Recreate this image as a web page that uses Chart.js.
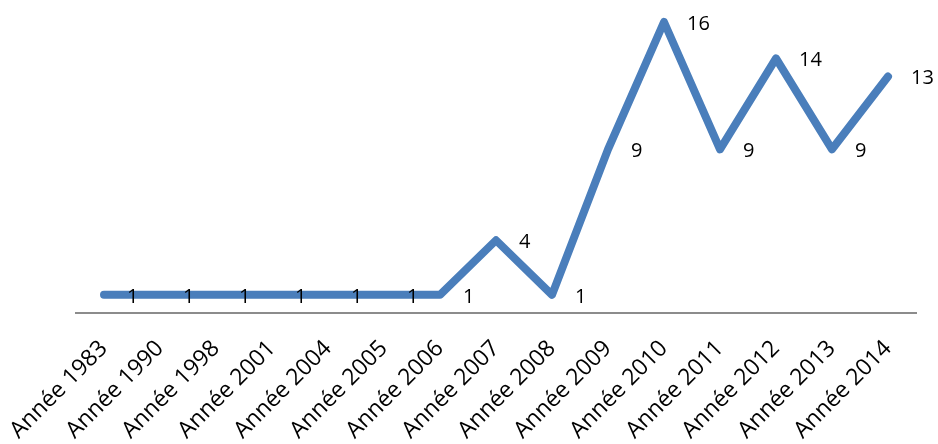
<!DOCTYPE html>
<html>
<head>
<meta charset="utf-8">
<script src="https://cdn.jsdelivr.net/npm/chart.js@4/dist/chart.umd.min.js"></script>
<style>
  html, body { margin: 0; padding: 0; background: #ffffff; }
  #wrap { width: 938px; height: 444px; position: relative; }
</style>
</head>
<body>
<div id="wrap"><canvas id="c"></canvas></div>
<script>
// Categories and values of the series
const categories = ["Année 1983", "Année 1990", "Année 1998", "Année 2001", "Année 2004",
  "Année 2005", "Année 2006", "Année 2007", "Année 2008", "Année 2009",
  "Année 2010", "Année 2011", "Année 2012", "Année 2013", "Année 2014"];
const counts = [1, 1, 1, 1, 1, 1, 1, 4, 1, 9, 16, 9, 14, 9, 13];

const FONT = "'Open Sans', Lato, 'DejaVu Sans', sans-serif";

// Writes each value to the right of its point
const valueLabels = {
  id: 'valueLabels',
  afterDatasetsDraw(chart) {
    const ctx = chart.ctx;
    const xs = chart.scales.x, ys = chart.scales.y;
    ctx.save();
    ctx.fillStyle = '#000000';
    ctx.font = '20px ' + FONT;
    ctx.textAlign = 'left';
    ctx.textBaseline = 'middle';
    chart.data.datasets[0].data.forEach((v, i) => {
      const x = xs.getPixelForValue(i);
      const y = ys.getPixelForValue(v);
      ctx.fillText(String(v), x + 23, y + 2);
    });
    ctx.restore();
  }
};

new Chart(document.getElementById('c'), {
  type: 'line',
  data: {
    labels: categories,
    datasets: [{
      data: counts,
      borderColor: '#4A7EBB',
      borderWidth: 8,
      borderCapStyle: 'round',
      borderJoinStyle: 'round',
      pointRadius: 0,
      pointHoverRadius: 0,
      tension: 0,
      fill: false,
      clip: false
    }]
  },
  options: {
    responsive: true,
    maintainAspectRatio: false,
    animation: false,
    layout: { padding: { left: 76, right: 22, top: 22, bottom: 0 } },
    plugins: { legend: { display: false }, tooltip: { enabled: false } },
    scales: {
      x: {
        offset: true,
        grid: { display: false, drawTicks: false },
        border: { display: true, color: '#8C8C8C', width: 2 },
        ticks: {
          color: '#000000',
          font: { family: FONT, size: 23 },
          minRotation: 45,
          maxRotation: 45,
          autoSkip: false,
          padding: 22
        },
        afterFit(scale) {
          // fixed band below the plot; rotated labels may overhang the sides
          scale.height = 131;
          scale.paddingLeft = 0;
          scale.paddingRight = 0;
        }
      },
      y: {
        display: false,
        min: 0,
        max: 16
      }
    }
  },
  plugins: [valueLabels]
});
</script>
</body>
</html>
